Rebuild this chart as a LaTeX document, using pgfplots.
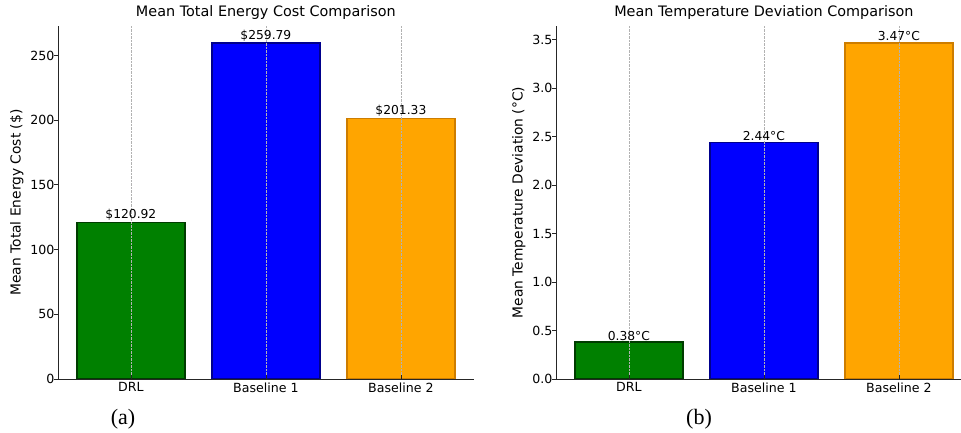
\documentclass[border=0pt]{standalone}
\usepackage{fontspec}
\setmainfont{DejaVu Sans}
\newfontfamily\seriffont{Liberation Serif}
\usepackage{pgfplots}
\pgfplotsset{compat=1.18}
\definecolor{cgreen}{RGB}{0,128,0}
\definecolor{cgreenE}{RGB}{0,60,0}
\definecolor{cblue}{RGB}{0,0,255}
\definecolor{cblueE}{RGB}{0,0,140}
\definecolor{corange}{RGB}{255,165,0}
\definecolor{corangeE}{RGB}{205,125,0}
\newcommand{\lab}{\fontsize{13.8}{16}\selectfont}
\newcommand{\tkl}{\fontsize{12.6}{15}\selectfont}
\pgfplotsset{mystyle/.style={
  scale only axis, width=415.8pt, height=353pt, anchor=south west,
  ybar, bar width=0.8, bar shift=0pt,
  xmin=-0.54, xmax=2.54, ymin=0,
  xtick={0,1,2}, xticklabels={DRL,Baseline 1,Baseline 2},
  axis x line*=bottom, axis y line*=left,
  axis line style={black!85, line width=0.8pt, -},
  xmajorgrids=true, ymajorgrids=false,
  grid style={gray!60, densely dotted, line width=0.5pt},
  axis on top,
  tick align=inside, major tick length=4pt,
  ytick style={xshift=-4pt, black!85, line width=0.8pt},
  xtick style={black!85, line width=0.8pt},
  tick label style={font=\tkl},
  /pgf/number format/assume math mode=true,
  ylabel style={yshift=0pt},
  title style={font=\fontsize{14.4}{17}\selectfont, yshift=-3pt},
  point meta=explicit symbolic,
  nodes near coords,
  every node near coord/.append style={font=\fontsize{12.3}{14}\selectfont, inner sep=1pt, anchor=south, black},
}}
\begin{document}
\begin{tikzpicture}
\useasboundingbox (0,0) rectangle (961pt,432pt);
\begin{axis}[mystyle, at={(58pt,53pt)}, ymax=272.78,
  ytick={0,50,100,150,200,250},
  title={Mean Total Energy Cost Comparison},
  ylabel={\lab Mean Total Energy Cost (\$)}]
\addplot[fill=cgreen, draw=cgreenE, line width=1.5pt] coordinates {(0,120.92) [\$120.92]};
\addplot[fill=cblue, draw=cblueE, line width=1.5pt] coordinates {(1,259.79) [\$259.79]};
\addplot[fill=corange, draw=corangeE, line width=1.5pt] coordinates {(2,201.33) [\$201.33]};
\end{axis}
\begin{axis}[mystyle, at={(556pt,53pt)}, ymax=3.6435,
  ytick={0,0.5,1,1.5,2,2.5,3,3.5},
  yticklabel style={/pgf/number format/.cd, fixed, fixed zerofill, precision=1},
  title={Mean Temperature Deviation Comparison},
  ylabel={\lab Mean Temperature Deviation (°C)}]
\addplot[fill=cgreen, draw=cgreenE, line width=1.5pt] coordinates {(0,0.38) [0.38°C]};
\addplot[fill=cblue, draw=cblueE, line width=1.5pt] coordinates {(1,2.44) [2.44°C]};
\addplot[fill=corange, draw=corangeE, line width=1.5pt] coordinates {(2,3.47) [3.47°C]};
\end{axis}
\node[font=\seriffont\fontsize{22}{24}\selectfont] at (123pt,13pt) {(a)};
\node[font=\seriffont\fontsize{22}{24}\selectfont] at (699pt,13pt) {(b)};
\end{tikzpicture}
\end{document}
